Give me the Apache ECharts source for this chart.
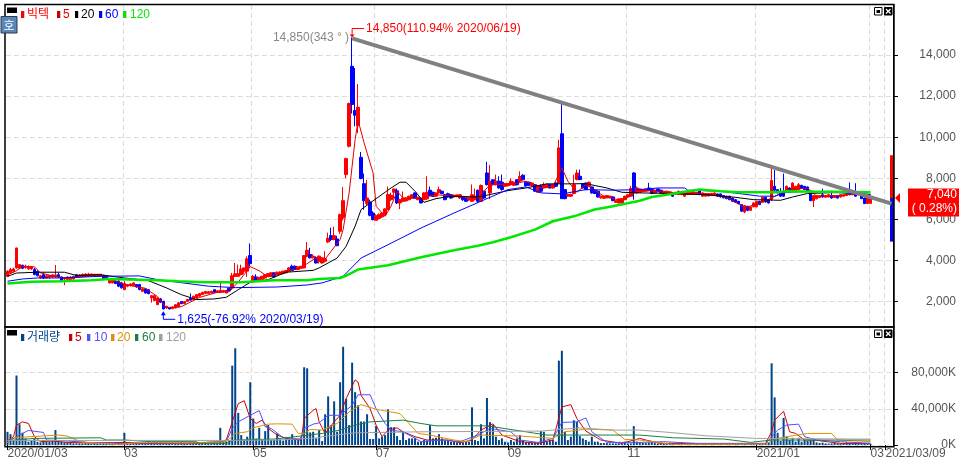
<!DOCTYPE html>
<html><head><meta charset="utf-8">
<style>html,body{margin:0;padding:0;background:#fff}#c{width:959px;height:460px}</style>
<script src="https://cdn.jsdelivr.net/npm/echarts@6/dist/echarts.min.js"></script>
</head><body><div id="c"></div>
<script>
const slotCount = 296;
const tickIndex = [0,39,82,123,167,207,250,288,293];
const tickText = ['2020/01/03','03','05','07','09','11','2021/01','03','2021/03/09'];
const priceTicks = [2000,4000,6000,8000,10000,12000,14000];
const volumeTicks = [0,40000,80000];
// [open, close, low, high]
const candles = [
[3230,3480,3200,3520],[3400,3560,3350,3640],[3480,3590,3400,3650],[3640,4610,3600,4620],[3620,3800,3580,3820],
[3770,3620,3580,3790],[3660,3720,3600,3800],[3590,3670,3550,3760],[3590,3690,3540,3720],[3560,3320,3280,3640],
[3470,3260,3220,3520],[3150,3260,3100,3300],[3310,3150,3100,3420],[3150,3260,3100,3290],[3180,3270,3120,3300],
[3200,3300,3150,3330],[3200,3300,3170,3780],[3310,3200,3150,3400],[3200,2990,2950,3220],[3100,3150,2800,3180],
[3070,3200,3050,3230],[3070,3200,3050,3230],[3100,3230,3070,3250],[3310,3200,3180,3340],[3200,3300,3170,3340],
[3230,3330,3200,3360],[3260,3340,3220,3380],[3260,3340,3230,3400],[3260,3340,3240,3360],[3260,3330,3230,3350],
[3240,3330,3220,3350],[3230,3330,3210,3350],[3270,3100,3080,3300],[3230,3130,3100,3250],[2910,3040,2880,3100],
[2910,3040,2890,3060],[2990,2880,2850,3040],[2990,2750,2700,3050],[2910,2670,2630,2960],[2580,2880,2560,3000],
[2750,2830,2700,2860],[2780,2860,2740,2890],[2780,2910,2760,2940],[2830,2710,2680,2850],[2830,2590,2550,2860],
[2500,2620,2470,2650],[2620,2420,2380,2640],[2580,2390,2350,2600],[2180,2290,1950,2300],[2050,2290,2030,2320],
[1850,2180,1830,2200],[2130,1970,1930,2180],[2020,1640,1625,2020],[1690,1770,1660,1800],[1720,1640,1630,1740],
[1650,1740,1640,1770],[1690,1850,1670,1880],[1740,1940,1720,1970],[2000,1900,1880,2020],[1900,2000,1880,2030],
[2010,2100,1990,2130],[2170,2070,2050,2400],[2100,2260,2080,2290],[2180,2340,2150,2370],[2260,2390,2240,2420],
[2340,2450,2320,2480],[2390,2490,2370,2520],[2400,2480,2380,2510],[2420,2500,2400,2530],[2580,2450,2430,2600],
[2450,2530,2430,2560],[2450,2550,2420,2950],[2470,2540,2450,2570],[2420,2550,2400,2570],[2650,2520,2500,2680],
[2660,3260,2580,3400],[3230,3350,3200,3880],[3230,3360,3200,3800],[3310,3590,3280,3800],[3480,3640,3350,3650],
[3480,4080,3200,4200],[4240,3850,3700,4830],[2990,3230,2950,3300],[3200,2990,2950,3330],[2990,3180,2950,3200],
[3070,3230,3050,3260],[3150,3310,3120,3340],[3230,3360,3200,3390],[3230,3400,3200,3420],[3400,3200,3170,3430],
[3300,3430,3280,3460],[3330,3440,3310,3470],[3360,3480,3340,3500],[3400,3510,3380,3530],[3480,3640,3460,3680],
[3720,3520,3500,3800],[3720,3560,3530,3760],[3560,3690,3540,3710],[3620,3720,3600,3740],[3640,4240,3620,4260],
[4210,4500,4150,4900],[4290,4130,4100,4620],[4130,4210,4100,4300],[4130,3880,3850,4200],[3960,4210,3850,4250],
[3880,4130,3850,4150],[3960,4080,3900,4450],[4900,5080,4850,5350],[5210,5020,4950,5600],[5020,5210,4980,5640],
[5050,4720,4700,5200],[5420,6230,5300,6280],[6070,6910,5950,7570],[8180,8960,8000,9000],[9560,11640,9500,11680],
[13450,11590,11150,14850],[11300,11070,10530,13370],[10560,11460,10200,12590],[9020,7990,7950,9280],[7740,6910,6470,8230],
[6770,7040,6700,7920],[6850,6200,6150,6960],[6310,5990,5950,6400],[5960,6180,5940,6250],[6040,6230,6000,6300],
[6120,6310,6080,6350],[6230,6510,6200,6550],[6480,7210,6450,7600],[6960,7170,6900,7300],[7320,7480,7000,7500],
[7390,6800,6750,7500],[6800,6960,6500,7000],[6880,7040,6850,7360],[6900,7040,6870,7060],[6960,7130,6930,7150],
[7040,7200,7000,7220],[7290,7030,7000,7310],[6960,7080,6930,7100],[7010,6800,6780,7030],[6960,7290,6930,7320],
[7000,7320,6950,8100],[7420,7160,7130,7600],[7320,7120,7100,7350],[7130,7290,7100,7310],[7290,7450,7260,7600],
[7370,7250,7230,7400],[7200,6960,6930,7230],[7250,7100,7060,7300],[7200,7040,7000,7220],[7100,7180,7060,7200],
[7120,7190,7080,7210],[7040,7200,7000,7230],[7090,6960,6900,7120],[7040,6880,6850,7060],[6950,7020,6900,7050],
[6880,7200,6850,7700],[6960,7130,6930,7500],[7420,6880,6800,7450],[6880,7650,6850,7700],[7370,7040,7000,7400],
[8260,7690,7650,8800],[7290,7860,6990,8650],[7930,7690,7650,7950],[7690,7860,7650,8180],[7860,7530,7500,8100],
[7810,7450,7400,8180],[7610,7740,7580,7770],[7640,7740,7600,7760],[7690,7860,7650,8000],[7660,7810,7630,7840],
[7930,7690,7650,7960],[7860,8090,7800,8340],[8150,7930,7900,8200],[7810,7640,7600,7850],[7810,7660,7620,7840],
[7640,7770,7600,7800],[7690,7370,7350,7720],[7320,7640,7300,7670],[7640,7370,7300,7700],[7530,7690,7500,7800],
[7560,7700,7520,7750],[7690,7530,7500,7720],[7530,7690,7500,7720],[7770,7610,7580,7800],[7770,9480,7740,9880],
[10170,7010,7000,11680],[7450,7010,6980,7480],[7130,7210,7100,7240],[7130,7210,7100,7260],[7260,7690,7230,8180],
[7940,8260,7900,8420],[8100,7940,7900,8420],[7730,7530,7500,7760],[7770,7450,7420,7800],[7610,7810,7580,7840],
[7580,7290,7250,7610],[7420,7260,7230,7450],[7370,7090,7060,7400],[7050,7130,7000,7160],[7030,7130,7000,7150],
[7050,7160,7030,7190],[7050,7130,7030,7150],[7090,6910,6890,7120],[6830,6910,6800,6940],[6800,7000,6780,7020],
[6800,7010,6780,7040],[6960,7130,6930,7150],[7090,7200,7060,7230],[7130,7500,7100,7630],[8260,7290,6960,8300],
[7290,7530,7250,7600],[7320,7480,7300,7500],[7360,7450,7340,7480],[7370,7480,7350,7500],[7530,7400,7370,7780],
[7450,7260,7230,7480],[7290,7420,7260,7450],[7480,7350,7320,7500],[7420,7290,7260,7440],[7240,7370,7200,7390],
[7240,7370,7200,7400],[7240,7340,7220,7360],[7290,7130,7090,7310],[7220,7320,7200,7340],[7210,7370,7190,7400],
[7210,7320,7190,7340],[7130,7260,7100,7280],[7210,7320,7180,7340],[7220,7320,7200,7340],[7240,7340,7210,7360],
[7220,7320,7200,7340],[7450,7210,7180,7470],[7130,7290,7100,7310],[7130,7260,7110,7280],[7140,7260,7120,7280],
[7170,7270,7150,7290],[7190,7290,7170,7310],[7240,7130,7100,7260],[7240,7090,7060,7260],[7160,7050,7020,7180],
[7130,7010,6980,7150],[7130,6960,6930,7150],[7040,6880,6860,7060],[6960,6830,6800,6980],[6880,6770,6740,6900],
[6720,6400,6370,6740],[6360,6670,6300,6700],[6640,6440,6400,6660],[6440,6610,6420,6640],[6610,6800,6590,6830],
[6610,6880,6590,6900],[6880,6720,6700,6900],[6830,7080,6810,7100],[7080,6850,6820,7100],[6960,6800,6770,6980],
[6960,7890,6900,8500],[7610,7420,7400,8400],[7450,7290,7260,7470],[7320,7130,7100,7530],[7320,7130,7100,8230],
[7320,7610,7300,7640],[7530,7320,7300,7560],[7420,7770,7400,7800],[7420,7610,7400,7640],[7450,7690,7430,7770],
[7660,7500,7480,7680],[7610,7450,7430,7630],[7580,7370,7350,7600],[7320,6910,6890,7340],[6910,7160,6600,7180],
[7000,7160,6980,7180],[7060,7150,7040,7170],[7200,7090,7060,7500],[7080,7160,7060,7180],[7090,7200,7070,7230],
[7160,7040,7010,7400],[7060,7160,7040,7180],[7160,7040,7010,7180],[7090,7200,7070,7220],[7130,7200,7110,7230],
[7160,7260,7140,7280],[7320,7200,7170,7800],[7200,7320,7180,7340],[7320,7130,7100,7760],[7200,7290,7180,7310],
[7210,7010,6990,7230],[7040,6770,6750,7060],[6770,7100,6750,7120],[6780,7040,6760,7060]
];
const volumes = [
14600,12000,5500,76900,23000,13500,7300,3700,5500,7300,3700,2900,5500,3700,3700,5500,16500,4800,3700,2900,
2900,2600,1800,1800,1800,1500,1800,1800,1500,1800,1800,1800,1500,1800,1800,1500,1800,2200,2200,13500,
1800,2200,2200,2600,1800,2200,1800,2200,1800,2600,1500,1800,1500,2200,1800,1500,1800,2200,2900,2200,
1800,1500,1800,2200,1800,1800,2200,1500,1800,2200,2200,19000,3700,3700,5500,87800,107000,35500,11000,5500,
9200,69500,29300,7300,19000,5500,15400,22000,5500,5500,12800,6200,4800,7300,6000,12000,7300,5500,9200,86000,
84900,13900,14600,7300,16500,4400,34000,53800,22000,48300,14600,69500,108700,51200,22000,91100,58500,43900,26000,26000,
34000,6600,6600,20900,7300,9200,11000,39500,19700,19700,9900,5500,14600,5500,7300,7300,8000,3700,3700,5500,
5000,22000,7300,8000,12000,7300,4400,5100,3700,3700,2900,2900,2900,3700,3700,41700,5500,4400,23000,7300,
52000,25300,22000,9200,5500,7300,3700,2900,5500,3700,7300,11000,5500,2900,2900,2900,2900,2900,15400,14600,
3700,5500,5500,3700,93300,104300,14600,5500,9200,27400,25600,9900,7300,5500,3700,9200,3700,3700,2200,2200,
2200,1800,1800,1800,1800,1800,3700,1800,1800,20900,3700,2900,2600,2200,2900,3300,2200,1800,2600,2200,
1800,2200,1500,1800,1800,2900,2200,1500,1500,1800,1200,1500,1800,1200,1200,1500,1500,1200,1500,1800,
1200,1500,1200,1500,1200,1200,1500,1800,1200,1500,1800,2200,1500,1800,3000,90400,52700,13500,4400,30000,
9200,5500,8000,3700,8000,3700,5500,4400,5500,5500,2900,2200,2600,1800,1500,1800,2200,1800,1500,1800,
2900,2200,1800,2200,1800,1800,1500,1500,1200
];
// moving averages read at sample points: [slot, value]
const ma5 = [[0,3300],[3,3500],[5,3720],[9,3690],[11,3400],[15,3250],[19,3150],[24,3200],[31,3300],[36,3000],[40,2800],[46,2650],[50,2250],[53,1700],[58,1750],[64,2200],[70,2450],[74,2480],[77,2950],[81,3700],[84,3500],[87,3200],[90,3350],[96,3580],[98,3660],[103,4130],[105,3880],[108,4450],[111,5020],[112,5500],[114,7290],[116,9880],[117,10820],[119,9720],[122,8260],[123,6640],[126,6150],[128,6640],[130,7370],[132,7040],[138,7040],[143,7200],[149,7130],[157,7040],[161,7690],[169,7730],[173,7860],[178,7530],[182,7610],[185,8500],[187,7860],[190,7320],[193,7690],[199,7130],[205,6910],[210,7370],[211,7450],[218,7340],[226,7240],[233,7240],[240,7090],[246,6560],[251,6800],[255,7040],[260,7420],[267,7530],[270,7130],[278,7160],[283,7260],[288,7000]];
const ma20 = [[0,3230],[3,3390],[10,3430],[19,3430],[23,3270],[31,3310],[39,3150],[47,3020],[53,2670],[58,2340],[63,2100],[69,2130],[73,2210],[77,2580],[81,2940],[87,3070],[93,3430],[102,3520],[104,3640],[110,4120],[113,4690],[116,5670],[118,6480],[123,7010],[128,7530],[131,7810],[133,7810],[136,7370],[139,6830],[143,7010],[148,7130],[157,7090],[161,7210],[167,7400],[173,7530],[180,7730],[187,7730],[193,7740],[200,7530],[205,7320],[211,7290],[222,7260],[233,7200],[242,7090],[249,6960],[258,6930],[262,7090],[267,7260],[273,7290],[280,7320],[288,7210]];
const ma60 = [[0,2990],[5,3100],[10,3150],[18,3150],[31,3230],[44,3250],[50,3070],[57,2940],[67,2750],[76,2680],[90,2710],[100,2810],[105,2910],[112,3230],[118,4120],[127,4770],[138,5580],[149,6310],[160,7010],[167,7450],[173,7580],[178,7290],[185,7240],[193,7450],[202,7420],[211,7450],[217,7530],[226,7530],[227,7420],[238,7370],[244,7260],[251,7130],[256,7130],[260,7320],[268,7370],[278,7290],[288,7210]];
const ma120 = [[0,2880],[8,2960],[18,2990],[28,3040],[34,3100],[50,3040],[57,2990],[66,2940],[78,2940],[89,3040],[100,3040],[104,3100],[111,3150],[113,3260],[117,3560],[127,3770],[138,4160],[149,4500],[157,4720],[162,4890],[168,5130],[176,5500],[182,5910],[189,6150],[196,6480],[202,6640],[211,6910],[215,7090],[221,7220],[226,7350],[231,7450],[238,7370],[244,7320],[256,7320],[260,7370],[269,7340],[277,7350],[288,7320]];
const vol5 = [[0,4400],[2,9200],[3,22000],[5,25600],[7,23800],[9,9200],[11,3700],[15,4400],[20,2900],[27,2200],[39,2900],[46,1800],[60,1500],[71,3700],[73,5500],[75,25600],[77,45800],[79,49000],[81,29300],[83,23800],[85,27500],[87,18300],[90,11000],[93,7300],[98,5500],[99,29300],[102,38400],[103,40300],[104,25600],[106,12800],[109,25600],[111,32900],[113,51200],[116,72100],[117,69500],[118,54900],[121,40300],[123,22000],[125,9200],[127,16500],[130,19000],[132,14600],[136,9200],[140,5500],[147,5500],[151,2600],[155,5500],[158,16500],[162,23400],[165,11000],[171,3700],[177,1800],[182,5500],[185,42100],[188,44700],[190,29300],[193,15400],[198,5500],[205,1800],[211,7300],[213,5500],[218,1800],[230,1800],[253,1800],[255,14600],[256,27500],[259,37300],[261,14600],[263,12800],[266,5500],[269,5500],[278,1800],[288,1800]];
const vol10 = [[0,2900],[3,9200],[5,12800],[7,16100],[12,13900],[13,5500],[20,4400],[27,2900],[38,1800],[60,2200],[73,3700],[75,18300],[77,25600],[81,32900],[84,38100],[86,20100],[88,18300],[92,8000],[98,6600],[99,18300],[102,23100],[104,24500],[107,32900],[111,32900],[115,43900],[117,55600],[121,55600],[123,40300],[126,23800],[128,16500],[132,14600],[138,3700],[145,5500],[151,3700],[157,11000],[161,18300],[168,14600],[171,5500],[177,2900],[182,7300],[185,24900],[190,25600],[193,30000],[195,14600],[200,2900],[211,2900],[219,3700],[231,1500],[253,1500],[255,9200],[257,16500],[260,22000],[264,23100],[266,9200],[270,5500],[278,3700],[288,1800]];
const vol20 = [[0,2900],[2,8000],[9,9500],[17,11000],[20,9900],[23,5500],[26,2900],[37,700],[45,2900],[60,2200],[73,3700],[76,12800],[80,14600],[82,19000],[87,23100],[90,23400],[95,23100],[97,12800],[99,12800],[101,17200],[105,16500],[110,23800],[114,36600],[118,44700],[123,39500],[131,34800],[137,12800],[141,11000],[149,5500],[153,3700],[158,11000],[171,9900],[182,7300],[186,14600],[193,17600],[202,16500],[206,6200],[211,5500],[222,700],[253,1100],[256,6600],[260,9200],[267,12800],[275,12800],[277,5500],[288,3700]];
const vol60 = [[0,4800],[9,7300],[31,8000],[33,5500],[39,5500],[48,3700],[63,3700],[64,1800],[73,1800],[76,5500],[89,6600],[96,9200],[105,12800],[111,16500],[116,22000],[121,25600],[132,27500],[138,23800],[143,21200],[160,21200],[173,14600],[180,11000],[193,11000],[211,11000],[222,8000],[239,6600],[248,2900],[255,5500],[258,5500],[288,5500]];
const vol120 = [[0,5100],[75,5100],[90,5500],[104,8000],[105,9200],[116,13500],[138,14600],[178,15400],[191,19000],[202,16500],[211,16500],[221,13900],[233,10200],[250,7300],[282,6600],[288,6600]];
const trendLine = [[115,14810],[295,6764]];
const limitUp = [[295,7040,9120]];
const limitDown = [[295,7040,4920]];
const highPoint = [115,14850];
const lowPoint = [52,1625];
const lastPrice = 7040;
const highLabel = '14,850(110.94% 2020/06/19)';
const angleLabel = '14,850(343 ° )';
const lowLabel = '1,625(-76.92% 2020/03/19)';
const lastLabel = '7,040';
const lastChange = '( 0.28%)';
const priceLegend = [['빅텍','#ff0000','#ff0000',21,27],['5','#c80000','#e00000',57,63],['20','#000000','#000000',75,81],['60','#0000ff','#0000ff',99,105],['120','#00e800','#00e800',123,130]];
const volumeLegend = [['거래량','#00458c','#00458c',21,27],['5','#d00000','#d00000',69,75],['10','#5050ff','#5050ff',87,94],['20','#e09000','#e09000',111,117],['60','#1a8040','#1a8040',135,142],['120','#a0a0a0','#a0a0a0',159,166]];

const FONT = '"Liberation Sans","Noto Sans CJK KR",sans-serif';
const chart = echarts.init(document.getElementById('c'), null, {renderer:'canvas'});
const slots = Array.from({length:slotCount}, (_, i) => String(i));
const isTick = (i) => tickIndex.indexOf(i) >= 0;
const isGridTick = (i) => i > 0 && isTick(i);
const dash = {show:true, interval:isGridTick, lineStyle:{color:'#dedede', type:[5,3], width:1.2}};
const ySplit = {show:true, lineStyle:{color:'#dedede', type:[5,3], width:1.2}};
const line = (name, data, color, width, x) => ({type:'line', name, data, xAxisIndex:x, yAxisIndex:x, symbol:'none', showSymbol:false, animation:false, silent:true, lineStyle:{color, width}, z:4});
const range = (data, color) => ({type:'custom', data, xAxisIndex:0, yAxisIndex:0, clip:false, silent:true, animation:false, z:3,
  encode:{x:0,y:[1,2]},
  renderItem:(p, api) => {
    const a = api.coord([api.value(0), api.value(1)]), b = api.coord([api.value(0), api.value(2)]);
    return {type:'rect', shape:{x:a[0]-1.5, y:Math.min(a[1],b[1]), width:3, height:Math.abs(b[1]-a[1])}, style:{fill:color}};
  }});
const yCommon = (ticks, fmt) => ({
  type:'value', position:'right', scale:false,
  axisLine:{show:true, lineStyle:{color:'#000', width:1}},
  axisTick:{show:true, length:5, lineStyle:{color:'#000', width:1}, customValues:ticks},
  axisLabel:{show:true, customValues:ticks, formatter:fmt, align:'right', margin:63, color:'#555', fontFamily:FONT, fontSize:12},
  splitLine:ySplit
});
chart.setOption({
  animation:false, backgroundColor:'#fff',
  grid:[{left:6, width:888, top:5, height:322},{left:6, width:888, top:327, height:118.5}],
  xAxis:[
    {type:'category', gridIndex:0, data:slots, boundaryGap:true, axisLine:{show:false}, axisTick:{show:false, alignWithLabel:true, interval:isGridTick}, axisLabel:{show:false}, splitLine:dash},
    {type:'category', gridIndex:1, data:slots, boundaryGap:true, axisLine:{show:false},
     axisTick:{show:true, alignWithLabel:true, interval:isTick, length:5, lineStyle:{color:'#000',width:1}},
     axisLabel:{show:true, interval:isTick, align:'left', margin:3, color:'#555', fontFamily:FONT, fontSize:12, formatter:(v)=>tickText[tickIndex.indexOf(+v)]},
     splitLine:dash}
  ],
  yAxis:[
    Object.assign(yCommon(priceTicks, (v)=>Number(v).toLocaleString('en-US')), {gridIndex:0, min:764, max:16433}),
    Object.assign(yCommon(volumeTicks, (v)=>Number(v).toLocaleString('en-US')+'K'), {gridIndex:1, min:0, max:130579})
  ],
  series:[
    {type:'candlestick', name:'빅텍', data:candles, xAxisIndex:0, yAxisIndex:0, barWidth:3, silent:true, animation:false, z:2,
     itemStyle:{color:'#ff0000', color0:'#0000ff', borderColor:'#ff0000', borderColor0:'#0000ff', borderWidth:1}},
    line('5', ma5, '#e00000', 1, 0),
    line('20', ma20, '#000000', 1, 0),
    line('60', ma60, '#0000ff', 1, 0),
    line('120', ma120, '#00e800', 2.5, 0),
    line('trend', trendLine, '#808080', 4, 0),
    range(limitUp, '#ff0000'),
    range(limitDown, '#0000ff'),
    {type:'bar', name:'거래량', data:volumes, xAxisIndex:1, yAxisIndex:1, barWidth:2, silent:true, animation:false, itemStyle:{color:'#00458c'}, z:2},
    line('v5', vol5, '#d00000', 1, 1),
    line('v10', vol10, '#5050ff', 1, 1),
    line('v20', vol20, '#e09000', 1, 1),
    line('v60', vol60, '#1a8040', 1, 1),
    line('v120', vol120, '#a0a0a0', 1, 1)
  ]
});
const px = (p) => chart.convertToPixel({xAxisIndex:0, yAxisIndex:0}, p);
const txt = (x, y, text, fill, extra) => ({type:'text', x, y, silent:true, z:30, style:Object.assign({text, fill, font:'12px '+FONT, textAlign:'left', textVerticalAlign:'middle'}, extra||{})});
const rect = (x, y, w, h, style) => ({type:'rect', silent:true, z:29, shape:{x,y,width:w,height:h}, style});
const poly = (pts, style) => ({type:'polyline', silent:true, z:29, shape:{points:pts}, style:Object.assign({fill:'none'}, style)});
const tri = (pts, color) => ({type:'polygon', silent:true, z:29, shape:{points:pts}, style:{fill:color}});
const hi = px(highPoint), lo = px(lowPoint), last = px([295, lastPrice]);
const els = [];
els.push(rect(5,4.5,889,322.5,{fill:'none',stroke:'#000',lineWidth:1.5}));
els.push(rect(5,327,889,119.7,{fill:'none',stroke:'#000',lineWidth:1.5}));
// legends
const legendRow = (items, swatchY, textY, boxY) => {
  els.push(rect(7,boxY,10,5.5,{fill:'#000'}));
  items.forEach(([t,sw,col,sx,tx]) => {
    els.push(rect(sx+3,swatchY,1,7,{fill:'#ccc'}));
    els.push(rect(sx,swatchY,3,7,{fill:sw}));
    els.push(txt(tx,textY,t,col));
  });
};
legendRow(priceLegend, 11, 14.5, 7.5);
legendRow(volumeLegend, 334, 337.5, 330);
// button
els.push(rect(1,16.5,16,16.5,{fill:'#5b86b8',stroke:'#2a3a50',lineWidth:1}));
els.push(txt(9,25,'호','#fff',{textAlign:'center',font:'12px "Noto Sans CJK KR"'}));
// window icons
[7.5,330].forEach((y) => {
  els.push(rect(874.5,y,7.5,7.5,{fill:'#fff',stroke:'#000',lineWidth:1}));
  els.push(rect(876.5,y+2.5,3.5,3,{fill:'#000'}));
  els.push(rect(884.5,y,7.5,7.5,{fill:'#000',stroke:'#000',lineWidth:1}));
  els.push(poly([[886,y+1.5],[890.5,y+6]],{stroke:'#fff',lineWidth:1.2}));
  els.push(poly([[890.5,y+1.5],[886,y+6]],{stroke:'#fff',lineWidth:1.2}));
});
// high annotation
els.push(poly([[hi[0],hi[1]-2],[hi[0],hi[1]-9],[hi[0]+12,hi[1]-9]],{stroke:'#ff0000',lineWidth:1}));
els.push(tri([[hi[0]-2.5,hi[1]-3],[hi[0]+2.5,hi[1]-3],[hi[0],hi[1]]],'#ff0000'));
els.push(txt(hi[0]+14,hi[1]-9,highLabel,'#ff0000'));
els.push(txt(hi[0]-3,hi[1],angleLabel,'#888888',{textAlign:'right'}));
// low annotation
els.push(poly([[lo[0],lo[1]+5],[lo[0],lo[1]+10],[lo[0]+12,lo[1]+10]],{stroke:'#0000ff',lineWidth:1}));
els.push(tri([[lo[0]-2.5,lo[1]+6],[lo[0]+2.5,lo[1]+6],[lo[0],lo[1]+2]],'#0000ff'));
els.push(txt(lo[0]+14,lo[1]+10,lowLabel,'#0000ff'));
// last price tag
els.push(tri([[895,last[1]],[900,last[1]-5],[900,last[1]+5]],'#ff0000'));
els.push(rect(908,last[1]-9.5,51,28,{fill:'#ff0000'}));
els.push(txt(957,last[1]-3,lastLabel,'#fff',{textAlign:'right'}));
els.push(txt(957,last[1]+11,lastChange,'#fff',{textAlign:'right'}));
chart.setOption({graphic:{elements:els}});
</script></body></html>
